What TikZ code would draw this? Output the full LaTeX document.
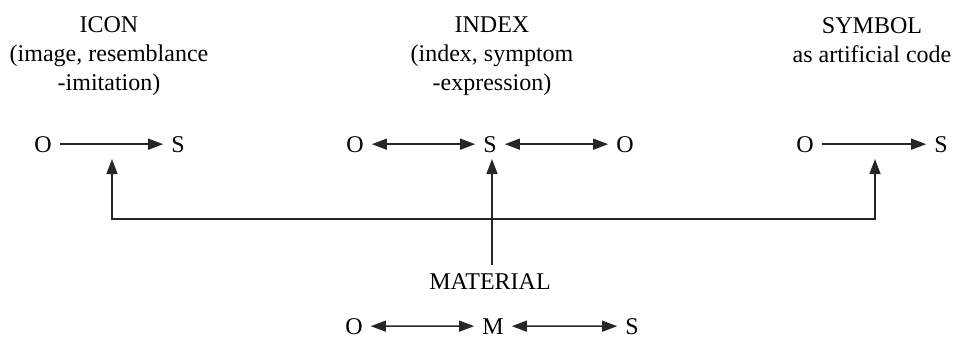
\documentclass[tikz,border=0pt]{standalone}
\usepackage{fontspec}
\setmainfont{Liberation Serif}
\usetikzlibrary{arrows.meta}
\begin{document}
\begin{tikzpicture}[x=1pt,y=-1pt,
  font=\fontsize{24}{29}\selectfont,
  txt/.style={anchor=base,inner sep=0pt},
  letter/.style={anchor=base,inner xsep=8pt,inner ysep=0pt},
  tip/.style={-{Triangle[length=15pt,width=11pt]}},
  line/.style={line width=1.4pt,draw=black!85},
  dtip/.style={{Triangle[length=15pt,width=11pt]}-{Triangle[length=15pt,width=11pt]}}]
\useasboundingbox (0,0) rectangle (954,338);
% headings
\node[txt] (icon1) at (109,32) {ICON};
\node[txt] (icon2) at (109,61) {(image, resemblance};
\node[txt] (icon3) at (109,90) {-imitation)};
\node[txt] (index1) at (492,32) {INDEX};
\node[txt] (index2) at (492,61) {(index, symptom};
\node[txt] (index3) at (492,90) {-expression)};
\node[txt] (sym1) at (872,33) {SYMBOL};
\node[txt] (sym2) at (872,62) {as artificial code};
% rows
\node[letter] (io) at (43,152) {O};
\node[letter] (is) at (178,152) {S};
\node[letter] (xo1) at (355,152) {O};
\node[letter] (xs) at (490,152) {S};
\node[letter] (xo2) at (625,152) {O};
\node[letter] (so) at (805,152) {O};
\node[letter] (ss) at (941,152) {S};
\node[txt] (mat) at (490,289) {MATERIAL};
\node[letter] (mo) at (354,334) {O};
\node[letter] (mm) at (493,334) {M};
\node[letter] (ms) at (632,334) {S};
% connectors
\draw[line,tip] (io) -- (is);
\draw[line,dtip] (xo1) -- (xs);
\draw[line,dtip] (xs) -- (xo2);
\draw[line,tip] (so) -- (ss);
\draw[line,dtip] (mo) -- (mm);
\draw[line,dtip] (mm) -- (ms);
\coordinate (tL) at (112,159);
\coordinate (bL) at (112,219);
\coordinate (tR) at (875,159);
\coordinate (bR) at (875,219);
\coordinate (tM) at (492,159);
\coordinate (bM) at (492,265);
\draw[line,dtip] (tL) -- (bL) -- (bR) -- (tR);
\draw[line,tip] (bM) -- (tM);
\end{tikzpicture}
\end{document}
